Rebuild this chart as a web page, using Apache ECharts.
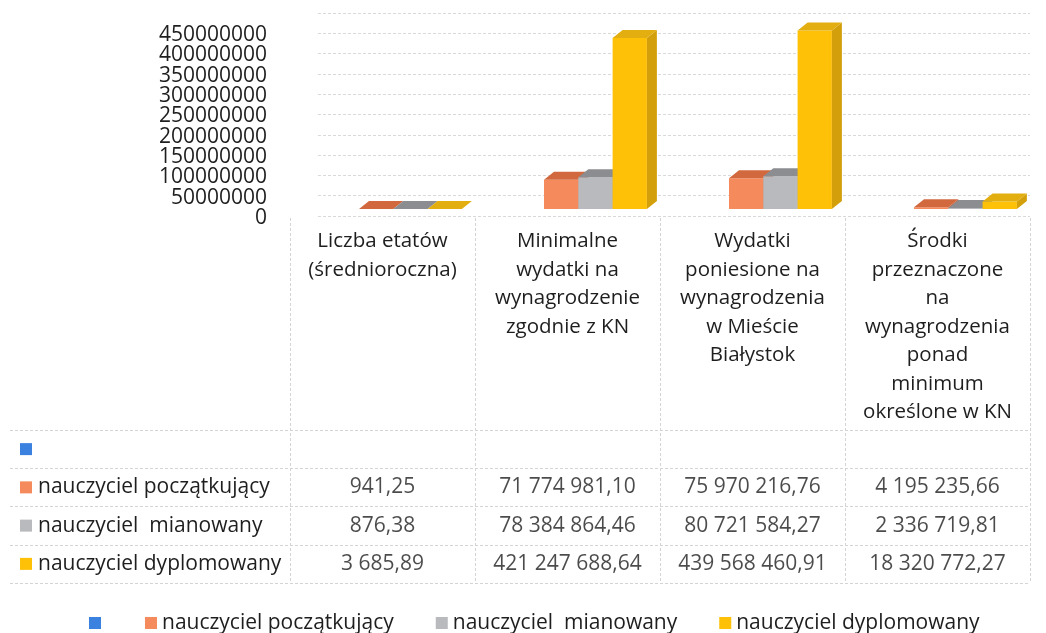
<!DOCTYPE html>
<html>
<head>
<meta charset="utf-8">
<script src="https://cdn.jsdelivr.net/npm/echarts@6/dist/echarts.min.js"></script>
<style>html,body{margin:0;padding:0;background:#fff;}#c{width:1046px;height:633px;}</style>
</head>
<body>
<div id="c"></div>
<script>
// ---- data ----
const categories = [
  'Liczba etatów\n(średnioroczna)',
  'Minimalne\nwydatki na\nwynagrodzenie\nzgodnie z KN',
  'Wydatki\nponiesione na\nwynagrodzenia\nw Mieście\nBiałystok',
  'Środki\nprzeznaczone\nna\nwynagrodzenia\nponad\nminimum\nokreślone w KN'
];
const seriesNames = [' ', 'nauczyciel początkujący', 'nauczyciel  mianowany', 'nauczyciel dyplomowany'];
const blankSeries = [];
const poczatkujacy = [941.25, 71774981.10, 75970216.76, 4195235.66];
const mianowany = [876.38, 78384864.46, 80721584.27, 2336719.81];
const dyplomowany = [3685.89, 421247688.64, 439568460.91, 18320772.27];
const yTickLabels = ['0', '50000000', '100000000', '150000000', '200000000', '250000000',
  '300000000', '350000000', '400000000', '450000000'];
const yScale = {min: 0, max: 500000000, interval: 50000000, barMax: 450000000};

// ---- styles ----
const FONT = '"Open Sans", "Noto Sans", sans-serif';
const TXT = '#1e1e1e';
const palette = [
  {front: '#3b82e0', top: '#2f6cc0', side: '#2a62b0'},
  {front: '#f58a5c', top: '#d2693e', side: '#c65e36'},
  {front: '#b9babe', top: '#8c8d90', side: '#858689'},
  {front: '#ffc107', top: '#e3ae10', side: '#d3a00c'}
];
const allSeries = [blankSeries, poczatkujacy, mianowany, dyplomowany];
const SLOT = 0.1854, OFF = -0.3124, DX = 10, DY = 8;

function fmt(v) {
  const parts = v.toFixed(2).split('.');
  return parts[0].replace(/\B(?=(\d{3})+(?!\d))/g, ' ') + ',' + parts[1];
}

function makeRender(idx) {
  const col = palette[idx];
  return function (params, api) {
    const c = api.value(0), v = api.value(1);
    const base = api.coord([c, 0]);
    const top = api.coord([c, v]);
    const band = api.size([1, 0])[0];
    const w = band * SLOT;
    const x0 = base[0] + band * OFF + idx * w;
    const yb = base[1], yt = top[1];
    return {
      type: 'group',
      children: [
        {type: 'rect', shape: {x: x0, y: yt, width: w, height: yb - yt}, style: {fill: col.front}},
        {type: 'polygon', shape: {points: [[x0 + w, yt], [x0 + w + DX, yt - DY], [x0 + w + DX, yb - DY], [x0 + w, yb]]}, style: {fill: col.side}},
        {type: 'polygon', shape: {points: [[x0, yt], [x0 + w, yt], [x0 + w + DX, yt - DY], [x0 + DX, yt - DY]]}, style: {fill: col.top}}
      ]
    };
  };
}

const rich = {t: {fontFamily: FONT, fontSize: 21, color: TXT, padding: [0, 0, 0, 6]}};
palette.forEach((p, i) => { rich['s' + i] = {width: 12, height: 12, backgroundColor: p.front}; });

const grids = [
  {left: 318, right: 16, top: 13, bottom: 417},   // back wall grid lines
  {left: 290, right: 16, top: 26.3, bottom: 424}, // bars
  {left: 290, right: 16, top: 218, bottom: 50},   // table vertical lines
  {left: 10, right: 16, top: 430, bottom: 50},    // table horizontal lines
  {left: 290, right: 16, top: 430, bottom: 50},   // table text
  {left: 318, right: 16, top: 35, bottom: 415}    // y tick labels
].map(g => Object.assign({outerBoundsMode: 'none', containLabel: false}, g));

const hiddenAxis = {axisLine: {show: false}, axisTick: {show: false}, axisLabel: {show: false}, splitLine: {show: false}};

const series = [];
allSeries.forEach((arr, i) => {
  series.push({
    type: 'custom', name: seriesNames[i], xAxisIndex: 1, yAxisIndex: 1,
    itemStyle: {color: palette[i].front},
    renderItem: makeRender(i),
    data: arr.map((v, k) => [k, v]),
    silent: true
  });
});
allSeries.forEach((arr, i) => {
  if (!arr.length) return;
  series.push({
    type: 'scatter', xAxisIndex: 4, yAxisIndex: 4, symbolSize: 0, silent: true,
    data: arr.map((v, k) => [k, i, v]),
    label: {show: true, position: 'inside', formatter: p => fmt(p.value[2]),
      fontFamily: FONT, fontSize: 21, color: TXT}
  });
});

const legendText = {fontFamily: FONT, fontSize: 21, color: TXT, lineHeight: 22};
const option = {
  backgroundColor: '#fff',
  animation: false,
  textStyle: {fontFamily: FONT},
  grid: grids,
  legend: [
    {data: seriesNames.slice(0, 1), left: 84, top: 607, itemWidth: 12, itemHeight: 12,
      icon: 'rect', selectedMode: false, textStyle: legendText},
    {data: seriesNames.slice(1), left: 140, top: 607, itemWidth: 12, itemHeight: 12, itemGap: 42,
      icon: 'rect', selectedMode: false, textStyle: legendText}
  ],
  xAxis: [
    Object.assign({type: 'category', gridIndex: 0, data: categories}, hiddenAxis),
    {type: 'category', gridIndex: 1, data: categories,
      axisLine: {show: false}, axisTick: {show: false}, splitLine: {show: false},
      axisLabel: {interval: 0, margin: 18, fontFamily: FONT, fontSize: 20.5, lineHeight: 28.5,
        color: TXT, align: 'center'}},
    Object.assign({}, hiddenAxis, {type: 'category', gridIndex: 2, data: categories,
      splitLine: {show: true, interval: 0, lineStyle: {color: '#d4d4d4', type: [3, 2]}}}),
    Object.assign({type: 'value', gridIndex: 3, min: 0, max: 1}, hiddenAxis),
    Object.assign({type: 'category', gridIndex: 4, data: categories}, hiddenAxis),
    Object.assign({type: 'value', gridIndex: 5, min: 0, max: 1}, hiddenAxis)
  ],
  yAxis: [
    Object.assign({}, hiddenAxis, {type: 'value', gridIndex: 0, min: yScale.min, max: yScale.max,
      interval: yScale.interval,
      splitLine: {show: true, lineStyle: {color: '#d9d9d9', type: [3, 2]}}}),
    Object.assign({type: 'value', gridIndex: 1, min: 0, max: yScale.barMax}, hiddenAxis),
    Object.assign({type: 'value', gridIndex: 2, min: 0, max: 1}, hiddenAxis),
    Object.assign({}, hiddenAxis, {type: 'value', gridIndex: 3, min: 0, max: 4, interval: 1,
      splitLine: {show: true, lineStyle: {color: '#d4d4d4', type: [3, 2]}}}),
    {type: 'category', gridIndex: 4, data: seriesNames, inverse: true,
      axisLine: {show: false}, axisTick: {show: false}, splitLine: {show: false},
      axisLabel: {interval: 0, margin: 270, align: 'left', rich: rich,
        formatter: (v, i) => '{s' + i + '|}{t|' + v + '}'}},
    {type: 'category', gridIndex: 5, data: yTickLabels, boundaryGap: false,
      axisLine: {show: false}, axisTick: {show: false}, splitLine: {show: false},
      axisLabel: {interval: 0, margin: 51, fontFamily: FONT, fontSize: 21, color: TXT}}
  ],
  series: series
};

const chart = echarts.init(document.getElementById('c'), null, {renderer: 'canvas'});
chart.setOption(option);
</script>
</body>
</html>
